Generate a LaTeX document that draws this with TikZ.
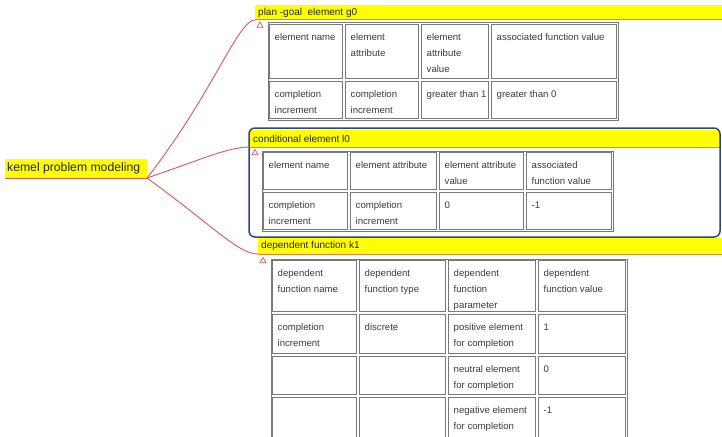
\documentclass[tikz,border=0pt]{standalone}
\usepackage{fontspec}
\setmainfont{Liberation Sans}
\usetikzlibrary{fit,shapes.geometric}
\definecolor{ban}{RGB}{255,255,0}
\definecolor{conn}{RGB}{225,85,85}
\definecolor{uline}{RGB}{235,125,85}
\definecolor{cellline}{RGB}{120,120,120}
\definecolor{celltxt}{RGB}{60,60,60}
\definecolor{bluebox}{RGB}{45,70,135}
\tikzset{
  cellbox/.style={draw=cellline, line width=1pt, inner sep=0pt, outer sep=0pt},
  celltext/.style={anchor=north west, align=left, inner xsep=5pt, inner ysep=4.5pt,
    text=celltxt, font=\fontsize{9.6}{16}\selectfont},
  bannerbox/.style={fill=ban, inner sep=0pt, outer sep=0pt},
  bannertext/.style={anchor=west, inner sep=0pt, text=black!85, font=\fontsize{10}{12}\selectfont},
  roottext/.style={anchor=west, inner sep=0pt, text=black!85, font=\fontsize{12.2}{14}\selectfont},
  uline/.style={draw=uline, line width=1pt},
  connector/.style={draw=conn, line width=0.9pt},
  tri/.style={regular polygon, regular polygon sides=3, draw=conn, line width=0.7pt, minimum size=7pt, inner sep=0pt},
}
\newcommand{\tcell}[6]{%
  \node[cellbox, fit={(#2+1.5,#3+1.5) (#4-1.5,#5-1.5)}] (#1) {};
  \node[celltext] (#1t) at (#1.north west) {\strut#6};
}
\begin{document}
\begin{tikzpicture}[x=1pt,y=-1pt]
\useasboundingbox (0,0) rectangle (722,436);
\clip (0,0) rectangle (722,436);
\fill[white] (0,0) rectangle (722,436);

% root
\node[bannerbox, fit={(5,159) (147,178)}] (root) {};
\node[roottext] (roott) at ([xshift=2pt]root.west) {kemel problem modeling};
\draw[draw=conn, line width=1pt] (root.south west) -- (root.south east);

% plan banner
\node[bannerbox, fit={(255,5) (722,20)}] (pban) {};
\node[bannertext] (pbant) at ([xshift=3pt]pban.west) {plan -goal\ \ element g0};
\draw[uline] (pban.south west) -- (pban.south east);
\node[tri] (tri1) at (260,25.5) {};

% plan table
\node[cellbox, fit={(268,23) (618,120)}] (ptab) {};
\tcell{p11}{268}{23}{344}{80}{element name}
\tcell{p12}{344}{23}{420}{80}{element\\attribute}
\tcell{p13}{420}{23}{490}{80}{element\\attribute\\value}
\tcell{p14}{490}{23}{618}{80}{associated function value}
\tcell{p21}{268}{80}{344}{120}{completion\\increment}
\tcell{p22}{344}{80}{420}{120}{completion\\increment}
\tcell{p23}{420}{80}{490}{120}{greater than 1}
\tcell{p24}{490}{80}{618}{120}{greater than 0}

% conditional
\node[bannerbox, fit={(250,130) (720,147)}] (cban) {};
\node[bannertext] (cbant) at ([xshift=3pt]cban.west) {conditional element l0};
\draw[uline] (cban.south west) -- (cban.south east);
\node[draw=bluebox, line width=1.5pt, rounded corners=6pt, inner sep=0pt, fit={(249,128) (720,237)}] (cbox) {};
\node[tri] (tri2) at (255,153) {};

\node[cellbox, fit={(262,151) (613,231)}] (ctab) {};
\tcell{c11}{262}{151}{349}{191}{element name}
\tcell{c12}{349}{151}{438}{191}{element attribute}
\tcell{c13}{438}{151}{525}{191}{element attribute\\value}
\tcell{c14}{525}{151}{613}{191}{associated\\function value}
\tcell{c21}{262}{191}{349}{231}{completion\\increment}
\tcell{c22}{349}{191}{438}{231}{completion\\increment}
\tcell{c23}{438}{191}{525}{231}{0}
\tcell{c24}{525}{191}{613}{231}{-1}

% dependent
\node[bannerbox, fit={(258,238) (722,254)}] (dban) {};
\node[bannertext] (dbant) at ([xshift=3pt]dban.west) {dependent function k1};
\draw[uline] (dban.south west) -- (dban.south east);
\node[tri] (tri3) at (263,261) {};

\node[cellbox, fit={(271,259) (627,442)}] (dtab) {};
\tcell{d11}{271}{259}{358}{313}{dependent\\function name}
\tcell{d12}{358}{259}{447}{313}{dependent\\function type}
\tcell{d13}{447}{259}{537}{313}{dependent\\function\\parameter}
\tcell{d14}{537}{259}{627}{313}{dependent\\function value}
\tcell{d21}{271}{313}{358}{355}{completion\\increment}
\tcell{d22}{358}{313}{447}{355}{discrete}
\tcell{d23}{447}{313}{537}{355}{positive element\\for completion}
\tcell{d24}{537}{313}{627}{355}{1}
\tcell{d31}{271}{355}{358}{396}{}
\tcell{d32}{358}{355}{447}{396}{}
\tcell{d33}{447}{355}{537}{396}{neutral element\\for completion}
\tcell{d34}{537}{355}{627}{396}{0}
\tcell{d41}{271}{396}{358}{442}{}
\tcell{d42}{358}{396}{447}{442}{}
\tcell{d43}{447}{396}{537}{442}{negative element\\for completion}
\tcell{d44}{537}{396}{627}{442}{-1}

% connectors
\draw[connector] (root.south east) .. controls (212,95) and (238,20) .. (pban.south west);
\draw[connector] (root.south east) .. controls (200,160) and (228,147) .. (cban.south west);
\draw[connector] (root.south east) .. controls (212,225) and (238,254) .. (dban.south west);
\end{tikzpicture}
\end{document}
